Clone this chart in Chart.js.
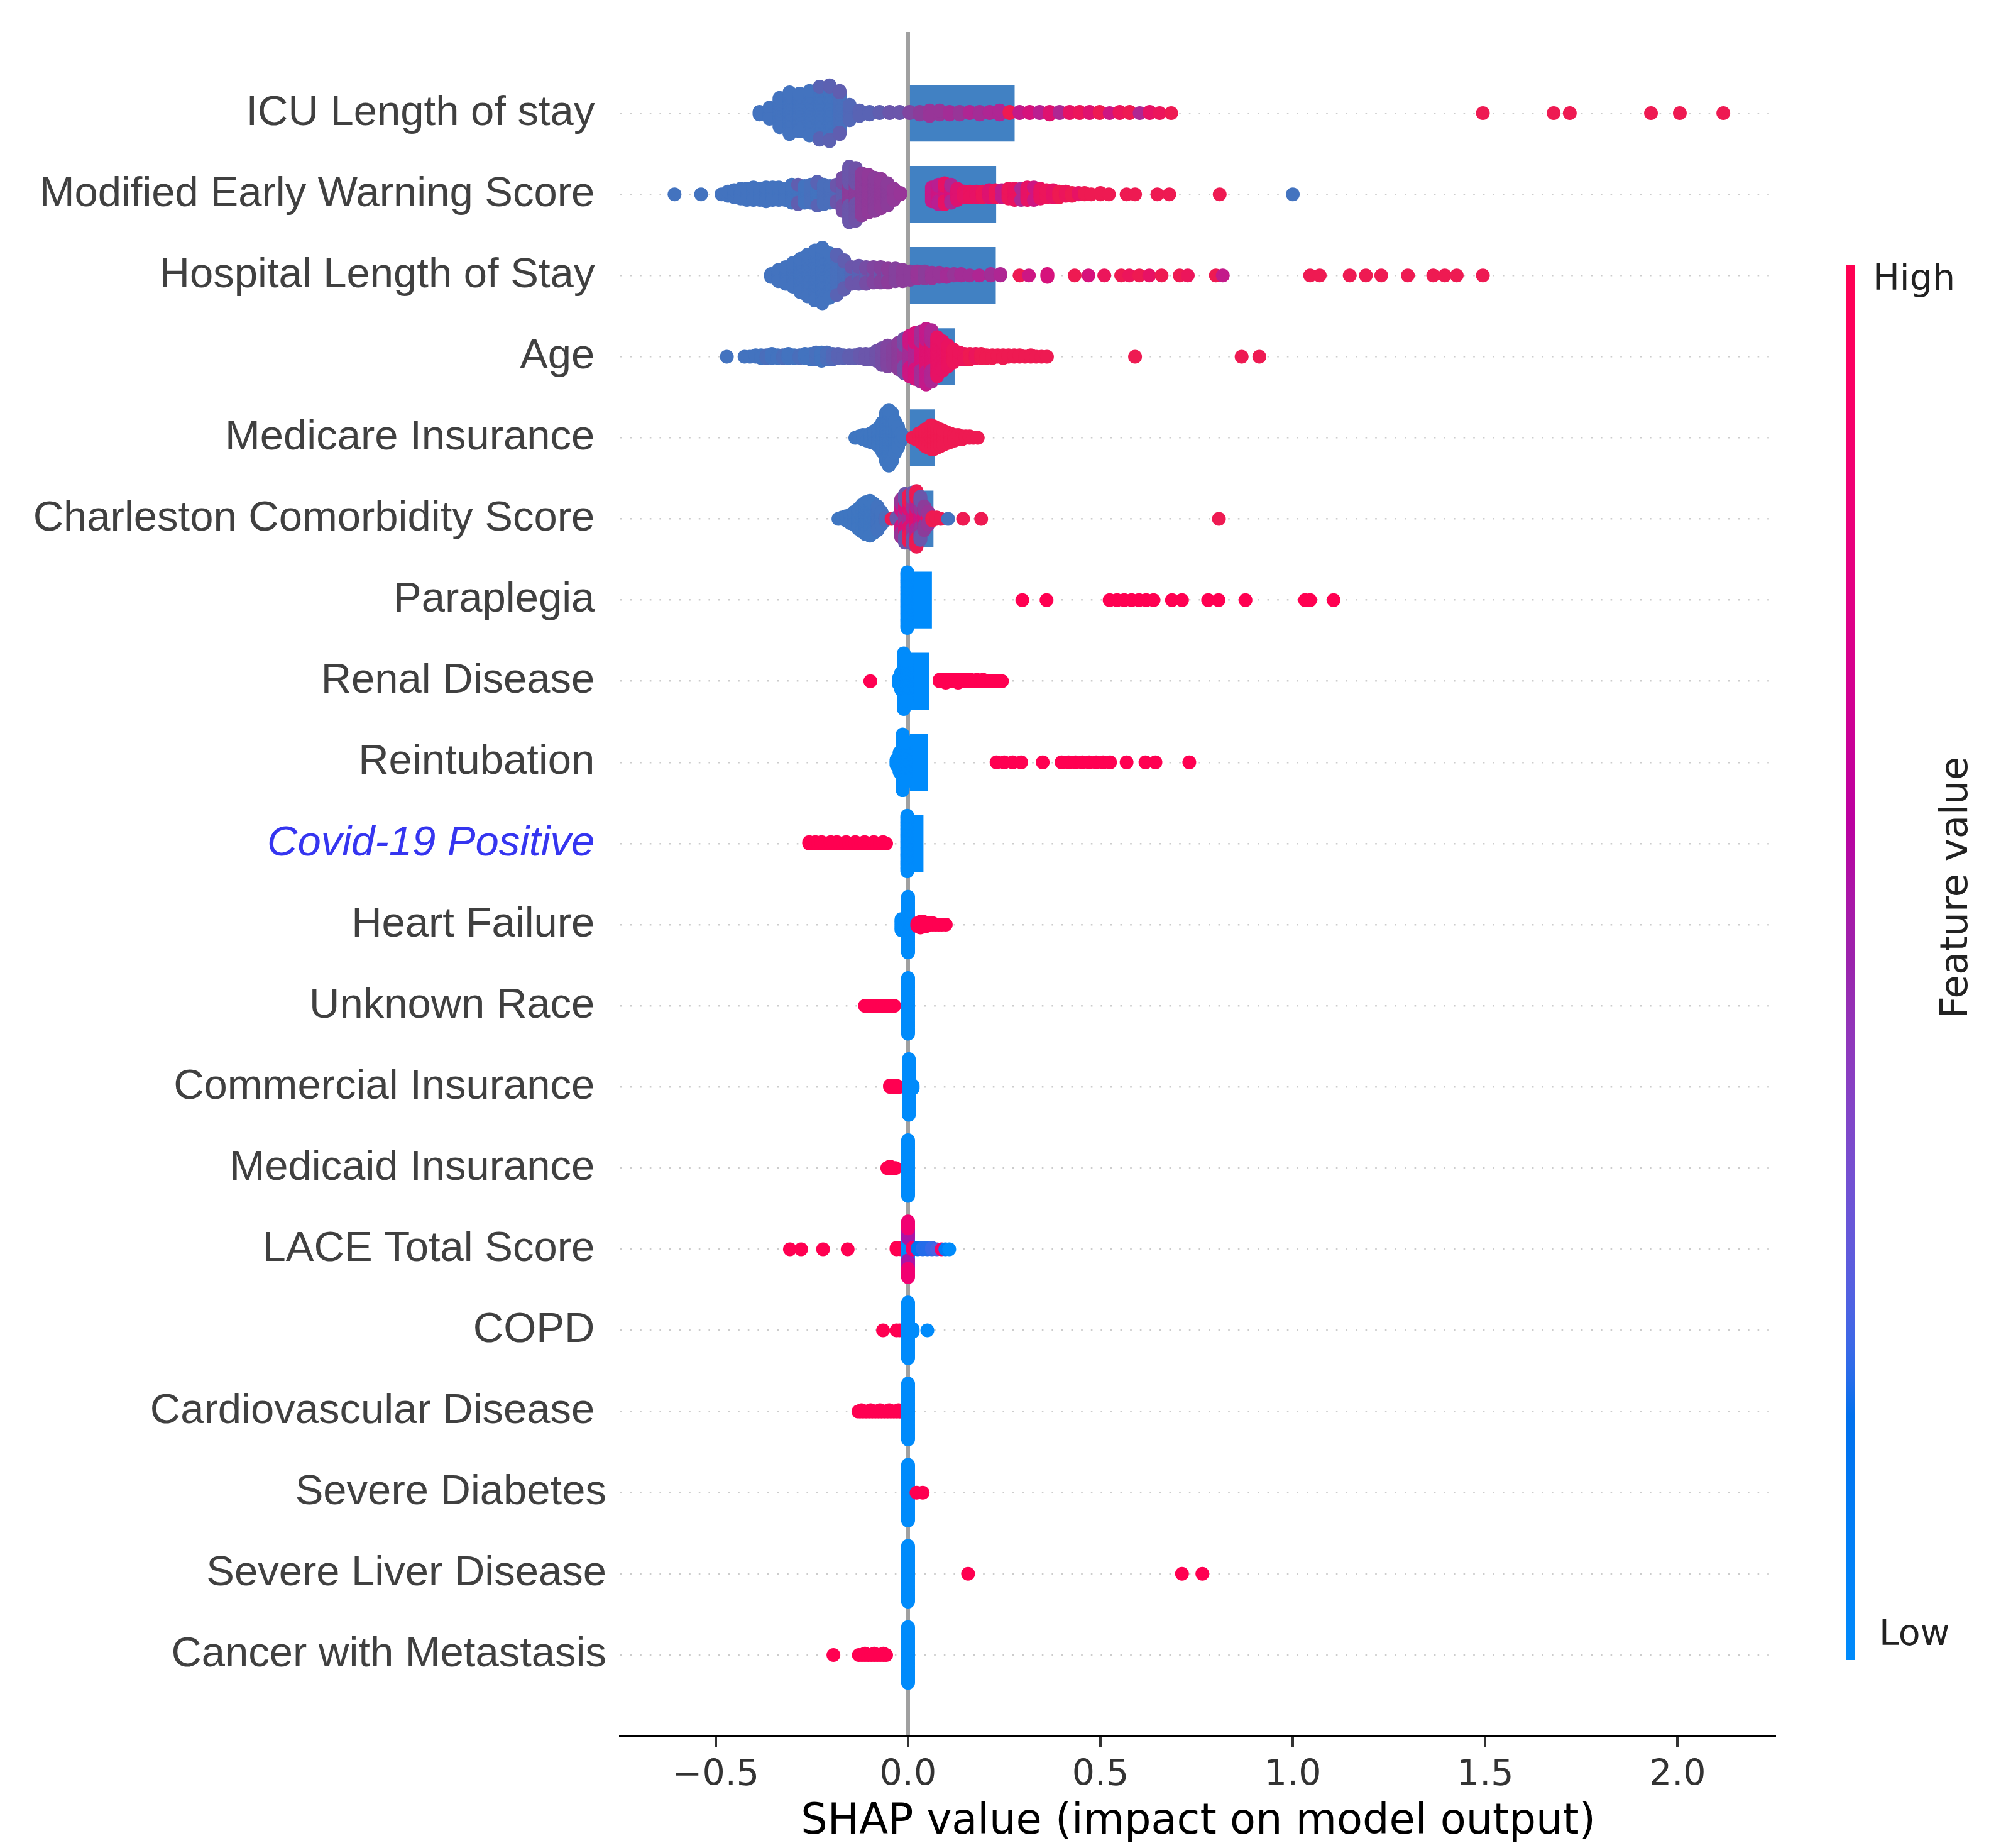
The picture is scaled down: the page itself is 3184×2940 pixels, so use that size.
<!DOCTYPE html>
<html>
<head>
<meta charset="utf-8">
<script src="https://cdn.jsdelivr.net/npm/chart.js@4.4.1/dist/chart.umd.min.js"></script>
<style>
html,body{margin:0;padding:0;background:#ffffff;}
canvas{display:block;}
</style>
</head>
<body>
<canvas id="c" width="3184" height="2940" style="width:3184px;height:2940px"></canvas>
<script>
// ---------------- DATA ----------------
const features = [
  "ICU Length of stay", "Modified Early Warning Score", "Hospital Length of Stay", "Age",
  "Medicare Insurance", "Charleston Comorbidity Score", "Paraplegia", "Renal Disease",
  "Reintubation", "Covid-19 Positive", "Heart Failure", "Unknown Race",
  "Commercial Insurance", "Medicaid Insurance", "LACE Total Score", "COPD",
  "Cardiovascular Disease", "Severe Diabetes", "Severe Liver Disease", "Cancer with Metastasis"
];
// mean |SHAP| bar per feature
const barValues = [0.277, 0.229, 0.228, 0.121, 0.069, 0.066, 0.062, 0.055, 0.051, 0.040,
                   0.015, 0.012, 0.010, 0.009, 0.012, 0.008, 0.010, 0.006, 0.006, 0.007];
const xTickValues = [-0.5, 0.0, 0.5, 1.0, 1.5, 2.0];

// each entry: [SHAP value, number of points read at that value, feature value 0(low)..1(high)]
const icuLengthOfStay = [
 [-0.386,3,0.05],[-0.360,9,0.05],[-0.334,22,0.05],[-0.308,31,0.05],[-0.282,28,0.05],[-0.256,33,0.05],
 [-0.230,36,0.05],[-0.230,3,0.2],[-0.204,37,0.05],[-0.204,4,0.22],[-0.178,28,0.08],[-0.178,4,0.25],
 [-0.152,12,0.15],[-0.126,5,0.2],[-0.100,3,0.2],[-0.074,2,0.25],[-0.048,2,0.3],[-0.022,2,0.3],
 [0.004,2,0.4],[0.030,3,0.45],[0.056,5,0.5],[0.082,4,0.5],[0.108,3,0.55],[0.134,3,0.5],[0.160,2,0.6],
 [0.186,3,0.55],[0.212,2,0.6],[0.238,4,0.6],[0.264,2,1.0],[0.290,2,0.7],[0.316,2,0.8],[0.342,2,0.65],
 [0.368,3,0.85],[0.394,2,0.6],[0.420,2,0.9],[0.446,2,0.95],[0.472,2,0.85],[0.498,2,1.0],[0.524,1,0.75],
 [0.550,2,0.95],[0.576,2,1.0],[0.602,1,0.6],[0.628,2,0.9],[0.654,1,0.95],[0.684,1,1.0],
 [1.494,1,1],[1.678,1,1],[1.720,1,1],[1.931,1,1],[2.006,1,1],[2.119,1,1]
];
const modifiedEarlyWarningScore = [
 [-0.607,1,0.05],[-0.538,1,0.05],
 [-0.485,1,0.05],[-0.468,4,0.05],[-0.452,6,0.05],[-0.435,8,0.05],[-0.419,9,0.05],[-0.402,10,0.05],
 [-0.385,9,0.05],[-0.369,11,0.05],[-0.352,10,0.05],[-0.336,10,0.05],[-0.319,9,0.05],[-0.302,14,0.05],
 [-0.286,12,0.05],[-0.286,3,0.25],[-0.269,13,0.05],[-0.253,14,0.08],[-0.236,15,0.05],[-0.236,3,0.2],
 [-0.219,15,0.1],[-0.203,13,0.1],[-0.186,10,0.15],[-0.186,4,0.3],[-0.170,15,0.25],[-0.170,10,0.35],
 [-0.153,15,0.45],[-0.153,26,0.3],[-0.136,14,0.45],[-0.136,25,0.32],[-0.120,31,0.45],[-0.103,28,0.47],
 [-0.087,25,0.45],[-0.070,22,0.47],[-0.053,17,0.45],[-0.037,9,0.48],[-0.020,2,0.5],
 [0.062,6,0.75],[0.062,5,0.7],[0.079,10,0.75],[0.079,5,0.65],[0.095,10,0.78],[0.095,6,0.9],
 [0.112,10,0.8],[0.112,4,0.6],[0.128,9,0.85],[0.145,5,0.9],[0.161,5,0.92],[0.178,5,0.9],[0.194,5,0.95],
 [0.211,6,0.85],[0.227,6,0.95],[0.244,4,0.9],[0.244,2,0.7],[0.261,8,0.95],[0.277,9,0.92],[0.294,7,0.95],
 [0.294,2,0.6],[0.310,10,0.9],[0.327,8,0.95],[0.327,2,0.75],[0.344,8,0.92],[0.360,6,0.95],[0.377,6,0.9],
 [0.393,5,1.0],[0.410,4,0.95],[0.426,3,1.0],[0.443,2,0.9],[0.459,2,1.0],[0.476,1,1.0],[0.500,2,1.0],
 [0.522,1,1.0],[0.568,1,1],[0.590,1,1],[0.648,1,1],[0.679,1,1],[0.810,1,1],[1.000,1,0.05]
];
const hospitalLengthOfStay = [
 [-0.356,3,0.05],[-0.337,9,0.05],[-0.318,13,0.05],[-0.299,18,0.05],[-0.280,25,0.05],[-0.261,31,0.05],
 [-0.242,37,0.05],[-0.223,41,0.05],[-0.204,33,0.05],[-0.185,27,0.08],[-0.185,3,0.2],[-0.166,18,0.1],
 [-0.166,4,0.25],[-0.147,10,0.15],[-0.147,3,0.3],[-0.128,10,0.2],[-0.128,4,0.3],[-0.109,9,0.25],
 [-0.109,4,0.35],[-0.090,8,0.3],[-0.090,4,0.4],[-0.071,8,0.3],[-0.071,4,0.42],[-0.052,7,0.35],
 [-0.052,4,0.45],[-0.033,10,0.42],[-0.014,9,0.45],[0.005,7,0.45],[0.024,6,0.5],[0.043,6,0.45],
 [0.062,5,0.5],[0.081,4,0.5],[0.100,3,0.55],[0.119,2,0.5],[0.138,2,0.55],[0.160,1,0.55],[0.185,1,0.6],
 [0.215,2,0.55],[0.240,2,0.6],[0.290,1,1.0],[0.314,1,0.75],[0.362,3,0.8],[0.433,1,1.0],[0.469,1,0.8],
 [0.510,1,0.95],[0.554,1,1.0],[0.575,1,0.95],[0.601,1,1.0],[0.627,1,0.9],[0.659,1,1.0],[0.706,1,1.0],
 [0.727,1,0.95],[0.800,1,1.0],[0.818,1,0.7],
 [1.045,1,1],[1.070,1,1],[1.148,1,1],[1.190,1,1],[1.230,1,1],[1.299,1,1],[1.365,1,1],[1.395,1,1],
 [1.426,1,1],[1.494,1,1]
];
const age = [
 [-0.471,1,0.05],[-0.425,1,0.05],[-0.411,1,0.05],[-0.396,2,0.05],[-0.382,3,0.05],[-0.368,3,0.1],
 [-0.354,4,0.05],[-0.339,3,0.05],[-0.325,3,0.1],[-0.311,4,0.05],[-0.296,3,0.05],[-0.282,3,0.1],
 [-0.268,4,0.05],[-0.253,5,0.05],[-0.239,6,0.08],[-0.225,7,0.05],[-0.211,6,0.1],[-0.196,5,0.15],
 [-0.182,4,0.2],[-0.168,3,0.2],[-0.153,3,0.25],[-0.139,3,0.25],[-0.125,4,0.28],[-0.110,5,0.3],
 [-0.096,5,0.3],[-0.082,8,0.32],[-0.068,13,0.35],[-0.053,16,0.4],[-0.039,13,0.42],[-0.025,20,0.45],
 [-0.010,14,0.5],[-0.010,12,0.35],[0.004,16,0.55],[0.004,14,0.75],[0.018,18,0.6],[0.018,16,0.8],
 [0.033,20,0.8],[0.033,17,0.55],[0.047,22,0.85],[0.047,19,0.7],[0.061,20,0.85],[0.061,18,0.6],
 [0.076,29,0.9],[0.090,22,0.9],[0.104,16,0.92],[0.118,10,0.95],[0.133,6,0.95],[0.147,5,0.95],
 [0.161,5,1.0],[0.176,4,0.95],[0.190,4,1.0],[0.204,3,1.0],[0.219,3,1.0],[0.233,2,1.0],[0.247,3,1.0],
 [0.261,2,1.0],[0.276,2,1.0],[0.290,2,1.0],[0.304,1,1.0],[0.319,2,1.0],[0.333,1,1.0],[0.347,1,1.0],
 [0.361,1,1.0],[0.590,1,1],[0.867,1,1],[0.913,1,1]
];
const medicareInsurance = [
 [-0.137,1,0.02],[-0.127,2,0.02],[-0.117,4,0.02],[-0.107,5,0.02],[-0.097,7,0.02],[-0.087,10,0.02],
 [-0.077,14,0.02],[-0.067,22,0.02],[-0.057,36,0.02],[-0.050,41,0.02],[-0.042,36,0.02],[-0.034,24,0.02],
 [-0.026,16,0.02],[-0.018,6,0.02],[-0.012,2,0.02],
 [0.012,1,1],[0.020,3,1],[0.028,6,1],[0.036,9,1],[0.044,13,1],[0.052,15,1],[0.060,18,1],[0.068,17,1],
 [0.076,15,1],[0.084,13,1],[0.092,11,1],[0.100,9,1],[0.110,7,1],[0.120,5,1],[0.130,4,1],[0.140,3,1],
 [0.150,2,1],[0.160,2,1],[0.170,1,1],[0.181,1,1]
];
const charlestonComorbidityScore = [
 [-0.181,1,0.02],[-0.171,2,0.02],[-0.161,4,0.02],[-0.150,7,0.02],[-0.140,10,0.02],[-0.130,15,0.02],
 [-0.120,20,0.02],[-0.110,24,0.02],[-0.099,26,0.02],[-0.089,22,0.02],[-0.079,18,0.05],[-0.069,10,0.05],
 [-0.059,3,0.1],[-0.043,1,1.0],[-0.030,2,0.3],
 [-0.018,10,0.3],[-0.018,10,0.75],[-0.018,8,0.5],
 [-0.008,12,0.5],[-0.008,12,0.8],[-0.008,12,0.3],
 [0.002,12,0.55],[0.002,12,0.85],[0.002,10,1.0],
 [0.012,14,0.8],[0.012,14,0.5],[0.012,10,0.3],
 [0.022,14,0.85],[0.022,14,0.6],[0.022,13,1.0],
 [0.032,12,0.75],[0.032,12,0.5],[0.032,8,0.3],
 [0.042,10,0.8],[0.042,8,0.45],[0.052,6,0.9],[0.052,4,0.5],
 [0.063,3,1.0],[0.074,2,1.0],[0.085,1,1.0],[0.104,1,0.05],[0.143,1,1.0],[0.190,1,1.0],[0.808,1,1.0]
];
const paraplegia = [
 [-0.002,41,0],
 [0.297,1,1],[0.360,1,1],[0.524,1,1],[0.543,1,1],[0.562,1,1],[0.581,1,1],[0.600,1,1],[0.619,1,1],
 [0.638,1,1],[0.686,1,1],[0.712,1,1],[0.780,1,1],[0.807,1,1],[0.877,1,1],[1.032,1,1],[1.045,1,1],[1.106,1,1]
];
const renalDisease = [
 [-0.098,1,1],
 [-0.024,5,0],[-0.018,13,0],[-0.011,41,0],[-0.004,30,0],
 [0.082,2,1],[0.090,2,1],[0.098,3,1],[0.106,2,1],[0.114,2,1],[0.122,2,1],[0.130,3,1],[0.138,2,1],
 [0.146,2,1],[0.154,2,1],[0.163,2,1],[0.171,1,1],[0.179,2,1],[0.187,1,1],[0.195,2,1],[0.203,1,1],
 [0.211,1,1],[0.219,1,1],[0.228,1,1],[0.236,1,1],[0.244,1,1]
];
const reintubation = [
 [-0.030,5,0],[-0.022,15,0],[-0.014,41,0],[-0.006,30,0],
 [0.230,1,1],[0.250,1,1],[0.272,1,1],[0.294,1,1],[0.350,1,1],[0.399,1,1],[0.417,1,1],[0.435,1,1],
 [0.453,1,1],[0.471,1,1],[0.489,1,1],[0.507,1,1],[0.525,1,1],[0.568,1,1],[0.617,1,1],[0.643,1,1],[0.731,1,1]
];
const covid19Positive = [
 [-0.257,2,1],[-0.249,1,1],[-0.241,2,1],[-0.233,1,1],[-0.225,2,1],[-0.217,1,1],[-0.209,1,1],
 [-0.201,2,1],[-0.193,1,1],[-0.185,2,1],[-0.177,1,1],[-0.169,1,1],[-0.161,2,1],[-0.153,1,1],
 [-0.145,1,1],[-0.137,2,1],[-0.129,1,1],[-0.121,1,1],[-0.113,2,1],[-0.105,1,1],[-0.097,1,1],
 [-0.089,2,1],[-0.081,1,1],[-0.073,1,1],[-0.065,2,1],[-0.057,1,1],
 [-0.002,41,0]
];
const heartFailure = [
 [-0.017,9,0],[0.000,41,0],
 [0.024,3,1],[0.032,5,1],[0.040,4,1],[0.048,3,1],[0.056,2,1],[0.064,2,1],[0.072,1,1],[0.080,1,1],
 [0.088,1,1],[0.098,1,1]
];
const unknownRace = [
 [-0.112,1,1],[-0.104,1,1],[-0.097,1,1],[-0.089,1,1],[-0.082,1,1],[-0.074,1,1],[-0.066,1,1],
 [-0.059,1,1],[-0.051,1,1],[-0.044,1,1],[-0.036,1,1],
 [0.000,41,0]
];
const commercialInsurance = [
 [-0.047,2,1],[-0.039,1,1],[-0.031,2,1],[-0.023,1,1],
 [0.002,41,0],[0.012,3,0]
];
const medicaidInsurance = [
 [-0.054,1,1],[-0.047,2,1],[-0.040,1,1],[-0.033,1,1],
 [0.000,41,0]
];
const laceTotalScore = [
 [-0.307,1,1],[-0.278,1,1],[-0.221,1,1],[-0.157,1,1],
 [-0.030,2,1],[-0.018,2,1],
 [0.000,15,0],[0.000,13,0.55],[0.000,13,0.85],
 [0.012,2,0.9],[0.025,2,0.15],[0.038,2,0.2],[0.050,2,0.2],[0.062,2,0.22],[0.075,1,0.25],
 [0.087,1,0.9],[0.097,1,0.1],[0.107,1,0]
];
const copd = [
 [-0.065,1,1],[-0.030,1,1],[-0.022,1,1],
 [0.000,41,0],[0.012,3,0],[0.050,1,0]
];
const cardiovascularDisease = [
 [-0.129,1,1],[-0.121,2,1],[-0.113,1,1],[-0.105,1,1],[-0.097,2,1],[-0.089,1,1],[-0.081,1,1],
 [-0.073,2,1],[-0.065,1,1],[-0.057,1,1],[-0.049,2,1],[-0.041,1,1],[-0.033,1,1],[-0.025,2,1],[-0.018,1,1],
 [0.000,41,0]
];
const severeDiabetes = [
 [0.000,41,0],[0.022,1,1],[0.038,1,1]
];
const severeLiverDisease = [
 [0.000,41,0],[0.156,1,1],[0.712,1,1],[0.765,1,1]
];
const cancerWithMetastasis = [
 [-0.194,1,1],[-0.128,1,1],[-0.120,1,1],[-0.112,2,1],[-0.104,1,1],[-0.096,1,1],[-0.088,2,1],
 [-0.080,1,1],[-0.072,1,1],[-0.064,2,1],[-0.057,1,1],
 [0.000,41,0]
];

const rowsData = [
  icuLengthOfStay, modifiedEarlyWarningScore, hospitalLengthOfStay, age, medicareInsurance,
  charlestonComorbidityScore, paraplegia, renalDisease, reintubation, covid19Positive, heartFailure,
  unknownRace, commercialInsurance, medicaidInsurance, laceTotalScore, copd, cardiovascularDisease,
  severeDiabetes, severeLiverDisease, cancerWithMetastasis
];

// ---------------- COLOURS ----------------
function redBlue(t) {
  t = Math.min(1, Math.max(0, t));
  const idx = t * 99;
  const L = idx <= 49 ? 54 - 14 * idx / 49 : (idx < 50 ? 40 : 40 + 14 * (idx - 50) / 49);
  const C = 70 + 20 * t;
  const h = 4.6588 + t * (0.35470565 + 2 * Math.PI - 4.6588);
  const a = C * Math.cos(h), b = C * Math.sin(h);
  const fy = (L + 16) / 116, fx = fy + a / 500, fz = fy - b / 200;
  const d = 6 / 29;
  const finv = f => f > d ? f * f * f : 3 * d * d * (f - 4 / 29);
  const X = 0.95047 * finv(fx), Y = finv(fy), Z = 1.08883 * finv(fz);
  const lin = [
    3.2404542 * X - 1.5371385 * Y - 0.4985314 * Z,
    -0.9692660 * X + 1.8760108 * Y + 0.0415560 * Z,
    0.0556434 * X - 0.2040259 * Y + 1.0572252 * Z
  ];
  const gam = c => c <= 0.0031308 ? 12.92 * c : 1.055 * Math.pow(c, 1 / 2.4) - 0.055;
  const rgb = lin.map(c => Math.round(255 * Math.min(1, Math.max(0, gam(Math.max(0, c))))));
  return `rgb(${rgb[0]},${rgb[1]},${rgb[2]})`;
}
const mutedStops = [
  [0.00, [60, 120, 195]], [0.25, [96, 94, 176]], [0.45, [140, 60, 154]], [0.65, [186, 30, 145]],
  [0.80, [214, 18, 124]], [0.92, [234, 18, 96]], [1.00, [238, 26, 82]]
];
function muted(t) {
  t = Math.min(1, Math.max(0, t));
  for (let i = 1; i < mutedStops.length; i++) {
    const [t1, c1] = mutedStops[i];
    const [t0, c0] = mutedStops[i - 1];
    if (t <= t1) {
      const u = (t - t0) / (t1 - t0);
      const c = c0.map((v, k) => Math.round(v + u * (c1[k] - v)));
      return `rgb(${c[0]},${c[1]},${c[2]})`;
    }
  }
  return 'rgb(238,26,82)';
}

// ---------------- BEESWARM LAYOUT (shap-style binning) ----------------
function beeswarm(entries, row) {
  const pts = [];
  entries.forEach(([x, n, fv]) => { for (let k = 0; k < n; k++) pts.push({ x, fv }); });
  const xs = pts.map(p => p.x);
  const mn = Math.min(...xs), mx = Math.max(...xs);
  const nbins = 100;
  const quant = xs.map(x => Math.round(nbins * (x - mn) / (mx - mn + 1e-8)));
  const inds = pts.map((_, i) => i).sort((a, b) => (quant[a] - quant[b]) || (a - b));
  const ys = new Array(pts.length).fill(0);
  let layer = 0, last = -1;
  for (const i of inds) {
    if (quant[i] !== last) layer = 0;
    ys[i] = Math.ceil(layer / 2) * ((layer % 2) * 2 - 1);
    layer++;
    last = quant[i];
  }
  const m = Math.max(...ys.map(v => v + 1));
  const s = 0.9 * (0.4 / m);
  return pts.map((p, i) => ({ x: p.x, y: row - ys[i] * s, fv: p.fv }));
}

const datasets = rowsData.map((entries, i) => {
  const pts = beeswarm(entries, i);
  const pal = i < 6 ? muted : redBlue;
  return {
    type: 'scatter',
    label: features[i],
    data: pts.map(p => ({ x: p.x, y: p.y })),
    pointBackgroundColor: pts.map(p => pal(p.fv)),
    pointBorderColor: 'rgba(0,0,0,0)',
    pointBorderWidth: 0,
    pointRadius: 11,
    pointHoverRadius: 11,
    order: 0
  };
});
datasets.push({
  type: 'bar',
  indexAxis: 'y',
  label: 'mean |SHAP|',
  data: barValues.map((v, i) => ({ x: v, y: i })),
  backgroundColor: barValues.map((v, i) => i < 6 ? '#4181c3' : redBlue(0)),
  borderWidth: 0,
  barPercentage: 0.7,
  categoryPercentage: 1.0,
  order: 1
});

const rightAligned = new Set([17, 18, 19]);
const highlighted = 9;

const colorbarPlugin = {
  id: 'colorbar',
  afterDraw(chart) {
    const ctx = chart.ctx;
    ctx.save();
    const top = 421, bottom = 2641, left = 2938, w = 14;
    const g = ctx.createLinearGradient(0, bottom, 0, top);
    for (let i = 0; i <= 40; i++) g.addColorStop(i / 40, redBlue(i / 40));
    ctx.fillStyle = g;
    ctx.fillRect(left, top, w, bottom - top);
    ctx.fillStyle = '#222';
    ctx.font = '57px "DejaVu Sans"';
    ctx.textAlign = 'left';
    ctx.textBaseline = 'middle';
    ctx.fillText('High', 2980, 446);
    ctx.fillText('Low', 2990, 2602);
    ctx.translate(3114, 1412);
    ctx.rotate(-Math.PI / 2);
    ctx.textAlign = 'center';
    ctx.font = '61px "DejaVu Sans"';
    ctx.fillText('Feature value', 0, 0);
    ctx.restore();
  }
};

function fmtTick(v) {
  const s = Math.abs(v).toFixed(1);
  return v < -1e-9 ? '\u2212' + s : s;
}

function draw() {
  new Chart(document.getElementById('c'), {
    type: 'scatter',
    data: { datasets },
    options: {
      responsive: false,
      animation: false,
      devicePixelRatio: 1,
      events: [],
      layout: { padding: { top: 51, right: 358, bottom: 0, left: 0 } },
      plugins: { legend: { display: false }, tooltip: { enabled: false } },
      scales: {
        x: {
          type: 'linear', position: 'bottom', min: -0.748, max: 2.256, offset: false,
          afterBuildTicks: s => { s.ticks = xTickValues.map(v => ({ value: v })); },
          ticks: {
            stepSize: 0.5, includeBounds: false, autoSkip: false, maxRotation: 0, minRotation: 0,
            callback: v => fmtTick(v), color: '#333333',
            font: { family: '"DejaVu Sans"', size: 57 }, padding: 11
          },
          grid: {
            offset: false,
            color: c => (c.tick && Math.abs(c.tick.value) < 1e-9) ? '#a0a0a0' : 'rgba(0,0,0,0)',
            lineWidth: c => (c.tick && Math.abs(c.tick.value) < 1e-9) ? 6 : 0,
            drawTicks: true, tickLength: 18, tickWidth: 4, tickColor: '#333333'
          },
          border: { display: true, color: '#000000', width: 4 },
          title: {
            display: true, text: 'SHAP value (impact on model output)', color: '#000000',
            font: { family: '"DejaVu Sans"', size: 67 }, padding: { top: 0, bottom: 0 }
          },
          afterFit: s => { s.height = 178; s.paddingLeft = 0; s.paddingRight = 0; }
        },
        y: {
          type: 'linear', reverse: true, min: -1, max: 20, offset: false,
          ticks: {
            stepSize: 1, autoSkip: false, maxTicksLimit: 50, padding: 22,
            callback: v => (Number.isInteger(v) && v >= 0 && v < features.length)
              ? features[v] + (rightAligned.has(v) ? '' : ' ') : '',
            color: c => (c.tick && c.tick.value === highlighted) ? '#3535f0' : '#404040',
            font: c => ({
              family: '"Liberation Sans", Arial, sans-serif', size: 67,
              style: (c.tick && c.tick.value === highlighted) ? 'italic' : 'normal'
            })
          },
          grid: {
            offset: false,
            color: c => (c.tick && c.tick.value >= 0 && c.tick.value < features.length) ? '#cccccc' : 'rgba(0,0,0,0)',
            lineWidth: 2.6, drawTicks: false, borderDash: [2.6, 13]
          },
          border: { display: false, dash: [2.6, 13] },
          afterFit: s => { s.width = 987; s.paddingTop = 0; s.paddingBottom = 0; }
        }
      }
    },
    plugins: [colorbarPlugin]
  });
}

Promise.all([
  document.fonts.load('67px "Liberation Sans"'),
  document.fonts.load('57px "DejaVu Sans"')
]).then(draw, draw);
</script>
</body>
</html>
